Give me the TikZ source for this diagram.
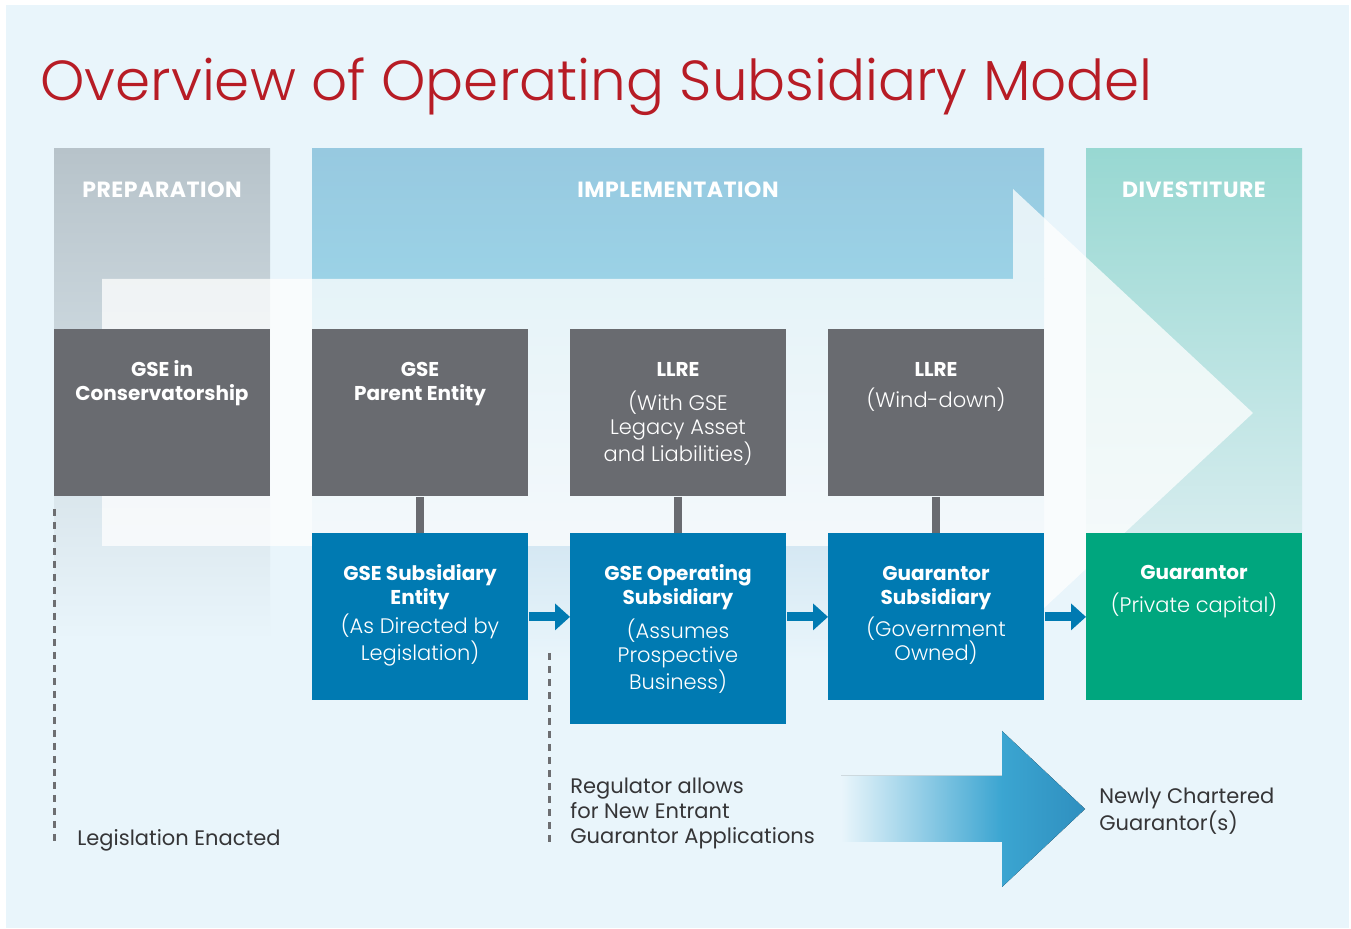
\documentclass[tikz,border=0pt]{standalone}
\usepackage{fontspec}
\setmainfont{Poppins}
\newfontfamily\lightfont{Poppins Light}
\usetikzlibrary{positioning,arrows.meta}

\definecolor{bgblue}{HTML}{E9F5FB}
\definecolor{titlered}{HTML}{B71C25}
\definecolor{prepgray}{HTML}{B7C3CA}
\definecolor{implblue}{HTML}{97C9E0}
\definecolor{impllow}{HTML}{9BD2E6}
\definecolor{implfade}{HTML}{D5E8F3}
\definecolor{divteal}{HTML}{98D8D2}
\definecolor{divlow}{HTML}{D5ECEE}
\definecolor{boxgray}{HTML}{696B70}
\definecolor{boxblue}{HTML}{007AB2}
\definecolor{boxgreen}{HTML}{00A67E}
\definecolor{dashgray}{HTML}{6D6E71}
\definecolor{textgray}{HTML}{353537}
\definecolor{arrowmid}{HTML}{3BA5D1}
\definecolor{arrowend}{HTML}{2F8FBF}

\pgfdeclarehorizontalshading{bigarrowshade}{100bp}{color(0bp)=(bgblue); color(25bp)=(bgblue); color(58bp)=(arrowmid); color(75bp)=(arrowend); color(100bp)=(arrowend)}

\begin{document}
\begin{tikzpicture}[x=0.5pt,y=-0.5pt,
    entity/.style={anchor=north west, minimum width=108pt, minimum height=83.5pt, inner sep=0pt},
    phase/.style={text=white, font=\fontsize{11}{13}\selectfont\bfseries\addfontfeature{LetterSpace=2.5}, inner sep=0pt},
    boxhead/.style={text=white, align=center, anchor=base, inner sep=0pt, font=\fontsize{10}{12}\selectfont\bfseries},
    boxnote/.style={text=white, align=center, anchor=base, inner sep=0pt, font=\fontsize{10.5}{12.2}\selectfont\lightfont},
    milestone/.style={text=textgray, align=left, anchor=base west, inner sep=0pt, font=\fontsize{10.5}{12.5}\selectfont},
    link/.style={boxgray, line width=4pt},
    flow/.style={boxblue, line width=4.5pt, -{Triangle[width=13pt,length=7.5pt]}},
    marker/.style={dashgray, line width=1.5pt, dash pattern=on 3.5pt off 3pt}]
    \useasboundingbox (0,0) rectangle (1351,929);
    \fill[bgblue] (6,5) rectangle (1349,928);

    % Title
    \node[anchor=base west, inner sep=0pt, text=titlered, font=\fontsize{28.2}{32}\selectfont\lightfont] (title) at (40,101) {Overview of Operating Subsidiary Model};

    % Phase columns
    \fill[top color=prepgray, bottom color=bgblue] (54,149) rectangle (270,640);
    \fill[top color=implblue, bottom color=impllow] (312,149) rectangle (1044,279);
    \fill[top color=impllow, bottom color=implfade] (312,279) rectangle (1044,546);
    \fill[top color=implfade, bottom color=bgblue] (312,546) rectangle (1044,660);
    \fill[top color=divteal, bottom color=divlow] (1086,149) rectangle (1302,533);
    \node[phase] (prep) at (162,190) {PREPARATION};
    \node[phase] (impl) at (678,190) {IMPLEMENTATION};
    \node[phase] (dive) at (1194,190) {DIVESTITURE};

    % Large process arrow behind the entities
    \fill[white, fill opacity=0.75] (102,279) -- (1013,279) -- (1013,189) -- (1253,413)
        -- (1013,637) -- (1013,546) -- (102,546) -- cycle;

    % Upper row (text nodes sit on the baseline of their last line)
    \node[entity, fill=boxgray] (consv) at (54,329) {};
    \node[entity, fill=boxgray] (parent) at (312,329) {};
    \node[entity, fill=boxgray] (legacy) at (570,329) {};
    \node[entity, fill=boxgray] (winddown) at (828,329) {};
    \node[boxhead] (consvtxt) at (162,401) {GSE in\\Conservatorship};
    \node[boxhead] (parenttxt) at (420,401) {GSE\\Parent Entity};
    \node[boxhead] (legacytxt) at (678,377) {LLRE};
    \node[boxnote] (legacynote) at (678,462) {(With GSE\\Legacy Asset\\and Liabilities)};
    \node[boxhead] (windtxt) at (936,377) {LLRE};
    \node[boxnote] (windnote) at (936,408) {(Wind-down)};

    % Lower row
    \node[entity, fill=boxblue] (subent) at (312,533) {};
    \node[entity, fill=boxblue, minimum height=95.5pt] (opsub) at (570,533) {};
    \node[entity, fill=boxblue] (gsub) at (828,533) {};
    \node[entity, fill=boxgreen] (privgu) at (1086,533) {};
    \node[boxhead] (subenttxt) at (420,605) {GSE Subsidiary\\Entity};
    \node[boxnote] (subentnote) at (420,661) {(As Directed by\\Legislation)};
    \node[boxhead] (opsubtxt) at (678,605) {GSE Operating\\Subsidiary};
    \node[boxnote] (opsubnote) at (678,690) {(Assumes\\Prospective\\Business)};
    \node[boxhead] (gsubtxt) at (936,605) {Guarantor\\Subsidiary};
    \node[boxnote] (gsubnote) at (936,661) {(Government\\Owned)};
    \node[boxhead] (privgutxt) at (1194,580) {Guarantor};
    \node[boxnote] (privgunote) at (1194,613) {(Private capital)};

    % Links between rows
    \draw[link] (parent.south) -- (subent.north);
    \draw[link] (legacy.south) -- (opsub.north);
    \draw[link] (winddown.south) -- (gsub.north);

    % Flow along the lower row
    \draw[flow] (subent.east) -- (opsub.west |- subent.east);
    \draw[flow] (opsub.east |- gsub.west) -- (gsub.west);
    \draw[flow] (gsub.east) -- (privgu.west);

    % Milestones
    \coordinate (enacttop) at (54,509);
    \coordinate (enactbot) at (54,845);
    \draw[marker] (enacttop) -- (enactbot);
    \node[milestone] (enact) at (77,846) {Legislation Enacted};
    \coordinate (regtop) at (549,653);
    \coordinate (regbot) at (549,845);
    \draw[marker] (regtop) -- (regbot);
    \node[milestone] (regul) at (570,844) {Regulator allows\\for New Entrant\\Guarantor Applications};

    % New entrants
    \fill[shading=bigarrowshade] (841,776) -- (1002,776) -- (1002,731) -- (1085,809)
        -- (1002,887) -- (1002,842) -- (841,842) -- cycle;
    \node[milestone] (newgu) at (1099,831) {Newly Chartered\\Guarantor(s)};
\end{tikzpicture}
\end{document}
